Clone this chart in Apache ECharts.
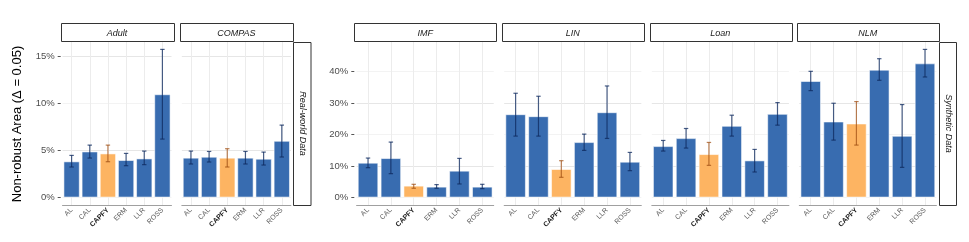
<!DOCTYPE html>
<html>
<head>
<meta charset="utf-8">
<script src="https://cdn.jsdelivr.net/npm/echarts@6/dist/echarts.min.js"></script>
<style>html,body{margin:0;padding:0;background:#fff;}#c{width:969px;height:242px;}</style>
</head>
<body>
<div id="c"></div>
<script>
const categories = ['AL', 'CAL', 'CAPFY', 'ERM', 'LLR', 'ROSS'];
const panelNames = ['Adult', 'COMPAS', 'IMF', 'LIN', 'Loan', 'NLM'];
const groupNames = ['Real-world Data', 'Synthetic Data'];
const realTicks = [0, 5, 10, 15];
const synthTicks = [0, 10, 20, 30, 40];

const adultMean = [3.84, 4.89, 4.68, 3.98, 4.15, 10.95];
const adultLow  = [3.24, 4.19, 3.80, 3.38, 3.49, 6.20];
const adultHigh = [4.47, 5.56, 5.56, 4.68, 4.93, 15.70];
const compasMean = [4.23, 4.33, 4.23, 4.23, 4.12, 6.02];
const compasLow  = [3.56, 3.77, 3.24, 3.56, 3.45, 4.30];
const compasHigh = [4.93, 4.89, 5.18, 4.89, 4.82, 7.68];
const imfMean = [11.08, 12.56, 3.80, 3.48, 8.55, 3.48];
const imfLow  = [9.50, 7.60, 2.96, 2.96, 4.33, 2.85];
const imfHigh = [12.56, 17.63, 4.22, 4.12, 12.45, 4.22];
const linMean = [26.49, 25.86, 9.08, 17.63, 27.12, 11.40];
const linLow  = [19.53, 19.53, 6.44, 14.99, 18.79, 8.55];
const linHigh = [33.14, 32.19, 11.72, 20.16, 35.46, 14.35];
const loanMean = [16.36, 18.89, 13.83, 22.80, 11.82, 26.60];
const loanLow  = [14.78, 15.73, 10.24, 19.53, 8.13, 23.01];
const loanHigh = [18.15, 21.95, 17.52, 26.17, 15.30, 30.18];
const nlmMean = [37.04, 24.17, 23.54, 40.63, 19.63, 42.64];
const nlmLow  = [33.98, 18.26, 16.68, 37.26, 9.60, 38.31];
const nlmHigh = [40.11, 29.97, 30.50, 44.12, 29.55, 47.07];

const means = [adultMean, compasMean, imfMean, linMean, loanMean, nlmMean];
const lows = [adultLow, compasLow, imfLow, linLow, loanLow, nlmLow];
const highs = [adultHigh, compasHigh, imfHigh, linHigh, loanHigh, nlmHigh];
const groupOf = [0, 0, 1, 1, 1, 1];

// layout
const FONT = 'Liberation Sans, Arial, sans-serif';
const BLUE = '#386CB0', ORANGE = '#FDB462';
const ERR_BLUE = 'rgba(14,42,95,0.75)', ERR_ORANGE = 'rgba(160,78,18,0.72)';
const panelTop = 42, panelBottom = 205;
const panels = [
  {L: 60.7, W: 112.6}, {L: 180.0, W: 112.7},
  {L: 354.3, W: 141.7}, {L: 501.9, W: 141.7}, {L: 649.5, W: 141.7}, {L: 797.0, W: 141.7}
];

// y ranges per group with 5% expansion
function groupRange(g) {
  let mx = 0;
  highs.forEach((h, i) => { if (groupOf[i] === g) mx = Math.max(mx, ...h); });
  const pad = mx * 0.05;
  return [-pad, mx + pad];
}
const ranges = [groupRange(0), groupRange(1)];
const minorStep = [2.5, 5];
const tickSets = [realTicks, synthTicks];

const grids = [], xAxes = [], yAxes = [], series = [], graphics = [];
panels.forEach((p, i) => {
  const inner = p.W * 0.1 / 6.2;
  const g = groupOf[i];
  const first = (i === 0 || i === 2);
  grids.push({left: p.L + inner, top: panelTop, width: p.W - 2 * inner, height: panelBottom - panelTop, containLabel: false});
  xAxes.push({
    type: 'category', gridIndex: i, data: categories, boundaryGap: true,
    axisLine: {onZero: false, lineStyle: {color: '#a0a0a0', width: 1}},
    axisTick: {alignWithLabel: true, length: 3, lineStyle: {color: '#a0a0a0'}},
    axisLabel: {
      rotate: 45, fontSize: 7, color: '#5a5a5a', margin: 4, interval: 0, fontFamily: FONT,
      formatter: v => v === 'CAPFY' ? '{b|' + v + '}' : v,
      rich: {b: {fontWeight: 'bold', color: '#1a1a1a', fontSize: 7, fontFamily: FONT}}
    },
    splitLine: {show: true, alignWithLabel: true, lineStyle: {color: '#ececec', width: 1}}
  });
  const ticks = tickSets[g];
  yAxes.push({
    type: 'value', gridIndex: i, min: ranges[g][0], max: ranges[g][1],
    minInterval: minorStep[g], maxInterval: minorStep[g],
    offset: inner,
    axisLine: {show: false},
    axisTick: {show: first, length: 3, customValues: ticks, lineStyle: {color: '#555'}},
    axisLabel: {
      show: first, customValues: ticks, fontSize: 9.5, color: '#4d4d4d', margin: 6, fontFamily: FONT,
      formatter: v => v + '%'
    },
    splitLine: {show: true, lineStyle: {color: ['#f3f3f3', '#e6e6e6'], width: 1}}
  });
  series.push({
    type: 'bar', xAxisIndex: i, yAxisIndex: i, barCategoryGap: '10%', z: 2,
    data: means[i].map((v, k) => ({value: v, itemStyle: {color: categories[k] === 'CAPFY' ? ORANGE : BLUE}})),
    itemStyle: {borderColor: 'rgba(255,255,255,0.55)', borderWidth: 1},
    silent: true, animation: false
  });
  series.push({
    type: 'custom', xAxisIndex: i, yAxisIndex: i, animation: false, silent: true, z: 5,
    encode: {x: 0, y: [1, 2]},
    data: categories.map((c, k) => [k, lows[i][k], highs[i][k]]),
    renderItem: (params, api) => {
      const x = api.value(0);
      const pLo = api.coord([x, api.value(1)]);
      const pHi = api.coord([x, api.value(2)]);
      const color = categories[x] === 'CAPFY' ? ERR_ORANGE : ERR_BLUE;
      const hw = 2.2;
      const st = {stroke: color, lineWidth: 1.2, fill: null};
      return {type: 'group', children: [
        {type: 'line', shape: {x1: pLo[0], y1: pLo[1], x2: pHi[0], y2: pHi[1]}, style: st},
        {type: 'line', shape: {x1: pHi[0] - hw, y1: pHi[1], x2: pHi[0] + hw, y2: pHi[1]}, style: st},
        {type: 'line', shape: {x1: pLo[0] - hw, y1: pLo[1], x2: pLo[0] + hw, y2: pLo[1]}, style: st}
      ]};
    }
  });
  // strip header
  graphics.push({
    type: 'rect', z: 100, shape: {x: Math.round(p.L) + 0.5, y: 23.5, width: Math.round(p.W), height: 18},
    style: {fill: '#fff', stroke: '#333', lineWidth: 1}
  });
  graphics.push({
    type: 'text', z: 101, x: p.L + p.W / 2, y: 33,
    style: {text: panelNames[i], font: 'italic 9px ' + FONT, fill: '#1a1a1a', align: 'center', verticalAlign: 'middle'}
  });
});

// side strips
const sideStrips = [{x: 293, w: 17.5, label: groupNames[0]}, {x: 939, w: 17, label: groupNames[1]}];
sideStrips.forEach(s => {
  graphics.push({
    type: 'rect', z: 100, shape: {x: s.x + 0.5, y: 42.5, width: s.w, height: 163},
    style: {fill: '#fff', stroke: '#333', lineWidth: 1}
  });
  graphics.push({
    type: 'text', z: 101, x: s.x + s.w / 2 + 0.5, y: 123.5, rotation: -Math.PI / 2,
    style: {text: s.label, font: 'italic 9px ' + FONT, fill: '#1a1a1a', align: 'center', verticalAlign: 'middle'}
  });
});

// y axis title
graphics.push({
  type: 'text', z: 101, x: 17, y: 124, rotation: Math.PI / 2,
  style: {text: 'Non-robust Area (Δ = 0.05)', font: '13px ' + FONT, fill: '#000', align: 'center', verticalAlign: 'middle'}
});

const chart = echarts.init(document.getElementById('c'), null, {renderer: 'canvas'});
chart.setOption({
  backgroundColor: '#fff',
  animation: false,
  textStyle: {fontFamily: FONT},
  grid: grids, xAxis: xAxes, yAxis: yAxes, series: series,
  graphic: graphics
});
</script>
</body>
</html>
